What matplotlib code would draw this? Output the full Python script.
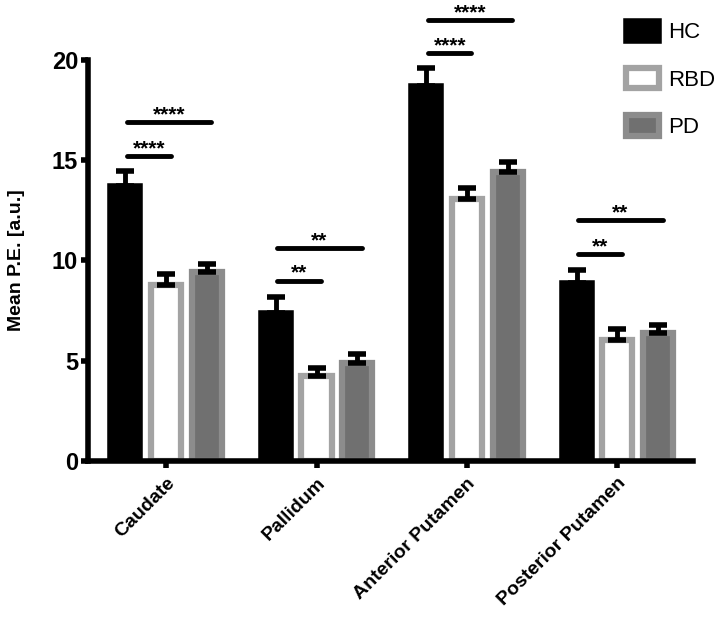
import matplotlib.pyplot as plt
import numpy as np

plt.rcParams['font.family'] = ['Liberation Sans', 'DejaVu Sans']

regions = ['Caudate', 'Pallidum', 'Anterior Putamen', 'Posterior Putamen']
groups = ['HC', 'RBD', 'PD']

# mean and SEM (upper error only)
hc_mean = [13.7, 7.4, 18.7, 8.9]
hc_err = [0.75, 0.8, 0.9, 0.6]
rbd_mean = [8.8, 4.25, 13.05, 6.05]
rbd_err = [0.5, 0.4, 0.55, 0.55]
pd_mean = [9.4, 4.9, 14.4, 6.4]
pd_err = [0.4, 0.45, 0.5, 0.4]

# significance bars: (region index, target group, height, label)
sig_regions = [0, 0, 1, 1, 2, 2, 3, 3]
sig_target = [1, 2, 1, 2, 1, 2, 1, 2]
sig_height = [15.2, 16.9, 9.0, 10.6, 20.35, 22.0, 10.3, 12.0]
sig_label = ['****', '****', '**', '**', '****', '****', '**', '**']

fig = plt.figure(figsize=(7.2, 6.22), dpi=100)
ax = fig.add_axes([0.122, 0.259, 0.84, 0.6445])

x = np.arange(len(regions))
offs = 0.27
w = 0.2

ax.bar(x - offs, hc_mean, w, color='black', edgecolor='black', linewidth=4, label='HC', zorder=2)
ax.bar(x, rbd_mean, w, color='white', edgecolor='#a3a3a3', linewidth=4.5, label='RBD', zorder=2)
ax.bar(x + offs, pd_mean, w, color='#707070', edgecolor='#8c8c8c', linewidth=4.5, label='PD', zorder=2)

for off, m, e in [(-offs, hc_mean, hc_err), (0, rbd_mean, rbd_err), (offs, pd_mean, pd_err)]:
    ax.errorbar(x + off, m, yerr=[np.zeros(len(m)), e], fmt='none', ecolor='black',
                elinewidth=3.5, capsize=6.5, capthick=4, zorder=3)

for r, t, h, lab in zip(sig_regions, sig_target, sig_height, sig_label):
    x0 = r - offs + 0.01
    x1 = r + (t - 1) * offs + 0.03
    ax.plot([x0, x1], [h, h], color='black', lw=3.5, solid_capstyle='round', clip_on=False)
    ax.text((x0 + x1) / 2, h - 0.1, lab, ha='center', va='bottom', fontsize=15,
            fontweight='bold', clip_on=False)

ax.set_xlim(-0.52, 3.5)
ax.set_ylim(0, 20)
ax.set_yticks([0, 5, 10, 15, 20])
ax.set_xticks(x)
ax.set_xticklabels(regions, rotation=45, ha='right', va='top', rotation_mode='anchor',
                   fontsize=14, fontweight='bold')
for lab in ax.get_yticklabels():
    lab.set_fontweight('bold')
    lab.set_fontsize(17)
ax.tick_params(axis='both', width=4, length=5, direction='out')
ax.tick_params(axis='x', pad=5)
ax.tick_params(axis='y', pad=2)
ax.set_ylabel('Mean P.E. [a.u.]', fontsize=14, fontweight='bold', labelpad=19)

for s in ['top', 'right']:
    ax.spines[s].set_visible(False)
for s in ['left', 'bottom']:
    ax.spines[s].set_linewidth(4)

ax.legend(loc='upper left', bbox_to_anchor=(0.87, 0.967), bbox_transform=fig.transFigure,
          frameon=False, fontsize=16, handlelength=1.45, handleheight=1.05,
          labelspacing=1.1, handletextpad=0.45, borderaxespad=0, borderpad=0)

fig.savefig('out.png', dpi=100)
